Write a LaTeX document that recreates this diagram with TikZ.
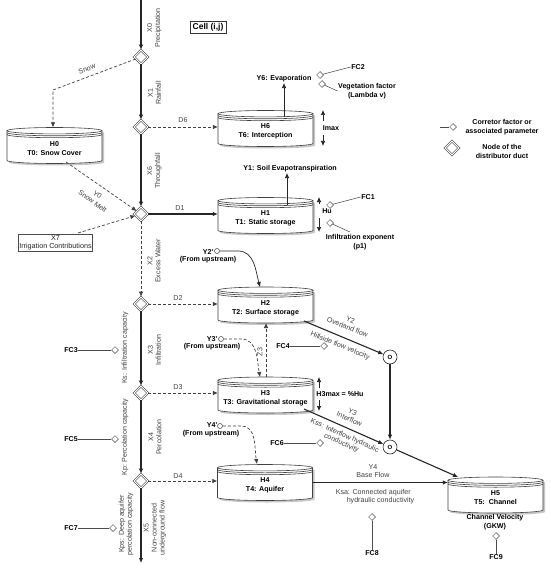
\documentclass[tikz,border=0pt]{standalone}
\usepackage{fontspec}
\setmainfont{Liberation Sans}
\usetikzlibrary{shapes.geometric,arrows.meta,calc}
\newcommand{\tankat}[4]{%
  \begin{scope}[shift={(#2,-#3)}]
    \fill[black!22] (-45.5,13) -- (-45.5,-17) arc[start angle=180,end angle=360,x radius=47.5,y radius=3] -- (49.5,13) -- cycle;
    \filldraw[fill=white,tankline] (-47.5,14.8) -- (-47.5,-15) arc[start angle=180,end angle=360,x radius=47.5,y radius=3] -- (47.5,14.8);
    \filldraw[fill=white,tankline] (0,14.8) ellipse[x radius=47.5,y radius=3.2];
    \draw[tankline] (-47.5,12.9) arc[start angle=180,end angle=360,x radius=47.5,y radius=3.2];
    \draw[tankline] (-47.5,11) arc[start angle=180,end angle=360,x radius=47.5,y radius=3.2];
  \end{scope}
  \node[tankbox] (#1) at (#2,-#3) {};
  \node[blab] (#1t) at (#2,-#3-3) {#4};
}
\begin{document}
\begin{tikzpicture}[x=1pt,y=1pt,
  lab/.style={font=\fontsize{7.1}{8}\selectfont, text=black!75, inner sep=0.5pt, align=center},
  blab/.style={font=\fontsize{7.1}{9}\selectfont\bfseries, inner sep=0.5pt, align=center},
  conn/.style={draw=black!85, line width=1.1pt},
  dconn/.style={draw=black!75, line width=0.7pt, dash pattern=on 3pt off 2pt},
  tline/.style={draw=black!85, line width=0.7pt},
  pline/.style={draw=black!70, line width=0.55pt},
  tankline/.style={draw=black!75, line width=0.6pt},
  arr/.style={-{Latex[length=5pt,width=4.5pt]}},
  tankbox/.style={minimum width=95pt, minimum height=36pt, inner sep=0pt},
  dnode/.style={diamond, draw=black!80, double=white, double distance=1pt, line width=0.6pt, minimum width=14pt, minimum height=14pt, inner sep=0pt},
  sdia/.style={diamond, draw=black!70, line width=0.5pt, minimum width=7pt, minimum height=7pt, inner sep=0pt, fill=white},
  ocirc/.style={circle, draw=black!85, line width=0.6pt, fill=white, minimum size=14pt, inner sep=0pt, font=\fontsize{6}{6}\selectfont\bfseries},
  scirc/.style={circle, draw=black!75, line width=0.5pt, fill=white, minimum size=5pt, inner sep=0pt}]
\useasboundingbox (0,0) rectangle (550,-569);
\fill[white] (0,0) rectangle (550,-569);

% tanks
\tankat{h0}{54.5}{145.5}{H0\\T0: Snow Cover}
\tankat{h6}{265.5}{128.5}{H6\\T6: Interception}
\tankat{h1}{265.5}{215.5}{H1\\T1: Static storage}
\tankat{h2}{265.5}{305}{H2\\T2: Surface storage}
\tankat{h3}{265.5}{395}{H3\\T3: Gravitational storage}
\tankat{h4}{265}{482.5}{H4\\T4: Aquifer}
\tankat{h5}{495.5}{495}{H5\\T5:\ \ Channel}

% main column
\coordinate (top) at (141,0);
\node[dnode] (n1) at (141,-57) {};
\node[dnode] (n2) at (141,-127) {};
\node[dnode] (n3) at (141,-214) {};
\node[dnode] (n4) at (141,-304) {};
\node[dnode] (n5) at (141,-393) {};
\node[dnode] (n6) at (141,-481) {};
\coordinate (bot) at (141,-563);
\draw[conn,arr] (top) -- (n1);
\draw[conn,arr] (n1) -- (n2);
\draw[conn,arr] (n2) -- (n3);
\draw[dconn,arr] (n3) -- (n4);
\draw[conn,arr] (n4) -- (n5);
\draw[conn,arr] (n5) -- (n6);
\draw[conn,arr] (n6) -- (bot);

\node[lab,rotate=90] (lx0) at (154.5,-28) {X0\\Precipitation};
\node[lab,rotate=90] (lx1) at (154.5,-93) {X1\\Rainfall};
\node[lab,rotate=90] (lx6) at (154.5,-171) {X6\\Throughfall};
\node[lab,rotate=90] (lx2) at (154,-261) {X2\\Excess Water};
\node[lab,rotate=90] (lx3) at (154.5,-350) {X3\\Infiltration};
\node[lab,rotate=90] (lx4) at (155,-437) {X4\\Percolation};
\node[lab,rotate=90] (lx5) at (155,-528) {X5\\Non-connected\\underground flow};

\node[lab,rotate=90] (lks) at (125,-348) {Ks: Infiltration capacity};
\node[lab,rotate=90] (lkp) at (125,-437) {Kp: Percolation capacity};
\node[lab,rotate=90] (lkps) at (126,-524) {Kps: Deep aquifer\\percolation capacity};

\node[blab] (fc3) at (71,-350) {FC3};
\node[sdia] (s3) at (115,-350) {};
\draw[pline] (fc3) -- (s3);
\node[blab] (fc5) at (71,-439) {FC5};
\node[sdia] (s5) at (115,-439) {};
\draw[pline] (fc5) -- (s5);
\node[blab] (fc7) at (71,-528) {FC7};
\node[sdia] (s7) at (113,-528) {};
\draw[pline] (fc7) -- (s7);

% cell
\node[draw=black!80, line width=0.6pt, fill=white, font=\fontsize{8.5}{9}\selectfont\bfseries, inner xsep=2.5pt, inner ysep=2pt] (cell) at (208,-27) {Cell (i,j)};

% snow
\coordinate (sc) at (53,-90);
\draw[dconn,arr] (n1) -- (sc) -- (sc |- h0.north);
\node[lab,rotate=22] (lsnow) at (87,-69) {Snow};
\coordinate (h0m) at (66,-162);
\draw[dconn,arr] (h0m) -- (n3);
\node[lab,rotate=-37] (ly0) at (95,-198) {Y0\\Snow Melt};
\node[lab, draw=black!70, line width=0.5pt, fill=white, text=black!85, inner xsep=1pt, inner ysep=1.5pt, font=\fontsize{7.2}{8}\selectfont] (x7) at (55.5,-243) {X7\\Irrigation Contributions};
\coordinate (x7t) at (78,-233);
\draw[dconn,arr] (x7t) -- (n3);

% distributions
\draw[dconn,arr] (n2) -- (n2 -| h6.west);
\node[lab] (ld6) at (183,-120) {D6};
\draw[draw=black!85, line width=1.6pt,arr] (n3) -- (n3 -| h1.west);
\node[lab] (ld1) at (180,-208) {D1};
\draw[dconn,arr] (n4) -- (n4 -| h2.west);
\node[lab] (ld2) at (178,-298) {D2};
\draw[dconn,arr] (n5) -- (n5 -| h3.west);
\node[lab] (ld3) at (178,-387) {D3};
\draw[dconn,arr] (n6) -- (n6 -| h4.west);
\node[lab] (ld4) at (178,-476) {D4};

% H6 outputs
\node[blab] (ly6) at (284,-79) {Y6: Evaporation};
\coordinate (e6) at (284,-117);
\draw[tline,arr] (e6) -- (ly6.south);
\node[sdia] (s2) at (320,-75) {};
\node[blab] (fc2) at (358,-67) {FC2};
\draw[pline] (s2) -- (fc2.west);
\node[sdia] (sv) at (322,-84) {};
\node[blab] (veg) at (367,-91) {Vegetation factor\\(Lambda v)};
\draw[pline] (sv) -- (veg.west);
\node[blab] (imax) at (331,-128) {Imax};
\coordinate (ima) at (323,-121); \coordinate (imt) at (323,-110);
\coordinate (imb) at (323,-135); \coordinate (imd) at (323,-146);
\draw[tline,arr] (ima) -- (imt);
\draw[tline,arr] (imb) -- (imd);

% H1 outputs
\node[blab] (ly1) at (290,-169) {Y1: Soil Evapotranspiration};
\coordinate (e1) at (287,-205);
\draw[tline,arr] (e1) -- (e1 |- ly1.south);
\node[blab] (hu) at (327,-211) {Hu};
\coordinate (hua) at (319,-204); \coordinate (hut) at (319,-197);
\coordinate (hub) at (319,-218); \coordinate (hud) at (319,-232);
\draw[tline,arr] (hua) -- (hut);
\draw[tline,arr] (hub) -- (hud);
\node[sdia] (s1) at (330,-205) {};
\node[blab] (fc1) at (368,-197) {FC1};
\draw[pline] (s1) -- (fc1.west);
\node[sdia] (sp1) at (330,-223) {};
\node[blab] (ipex) at (360,-242) {Infiltration exponent\\(p1)};
\coordinate (ipl) at (350,-232);
\draw[pline] (sp1) -- (ipl);

% upstream inputs
\node[blab] (y2p) at (208,-252) {Y2\textquotesingle};
\node[scirc] (c2p) at (217,-251) {};
\node[blab] (fu2) at (208,-260) {(From upstream)};
\coordinate (h2in) at (260,-287);
\draw[tline,arr] (c2p) -- (238,-251) to[out=0,in=105] (h2in);

\node[blab] (y3p) at (212,-339) {Y3\textquotesingle};
\node[scirc] (c3p) at (221,-339) {};
\node[blab] (fu3) at (212,-347) {(From upstream)};
\coordinate (h3in) at (260,-377);
\draw[dconn,arr] (c3p) -- (241,-339) to[out=0,in=100] (h3in);

\node[blab] (y4p) at (212,-425) {Y4\textquotesingle};
\node[scirc] (c4p) at (220,-426) {};
\node[blab] (fu4) at (211,-434) {(From upstream)};
\coordinate (h4in) at (257,-464);
\draw[dconn,arr] (c4p) -- (241,-426) to[out=0,in=100] (h4in);

% Z3
\coordinate (z3a) at (266,-377); \coordinate (z3b) at (266,-323);
\draw[dconn,arr] (z3a) -- (z3b);
\node[lab,rotate=90] (lz3) at (260,-352) {Z3};

\node[blab] (h3m) at (340,-394) {H3max = \%Hu};
\coordinate (h3a) at (319,-388); \coordinate (h3t) at (319,-377);
\coordinate (h3b) at (319,-400); \coordinate (h3d) at (319,-411);
\draw[tline,arr] (h3a) -- (h3t);
\draw[tline,arr] (h3b) -- (h3d);

% overland / interflow
\node[ocirc] (o1) at (390,-357) {O};
\node[ocirc] (o2) at (390,-447) {O};
\coordinate (h2o) at (304,-321);
\draw[conn,arr] (h2o) -- (o1);
\node[lab,rotate=-22] (ly2) at (349,-323.5) {Y2\\Overland flow};
\node[lab,rotate=-22] (lhv) at (340,-346) {Hillside flow velocity};
\node[blab] (fc4) at (283,-346) {FC4};
\node[sdia] (s4) at (324,-346) {};
\draw[pline] (fc4) -- (s4);
\draw[conn,arr] (o1) -- (o2);
\coordinate (h3o) at (304,-409);
\draw[conn,arr] (h3o) -- (o2);
\node[lab,rotate=-24] (ly3) at (351,-415.5) {Y3\\Interflow};
\node[lab,rotate=-24] (lkss) at (343,-439.5) {Kss: Interflow hydraulic\\conductivity};
\node[blab] (fc6) at (277,-443) {FC6};
\node[sdia] (s6) at (320,-443) {};
\draw[pline] (fc6) -- (s6);
\coordinate (h5in) at (458,-477);
\draw[conn,arr] (o2) -- (h5in);

% base flow
\draw[conn,arr] (h4.east) -- (h4.east -| h5.west);
\node[lab] (ly4) at (373,-471) {Y4\\Base Flow};
\node[lab,align=left] (lksa) at (375,-496.5) {Ksa: Connected aquifer\\\hspace*{11pt}hydraulic conductivity};
\node[sdia] (s8) at (372,-517) {};
\node[blab] (fc8) at (372,-553) {FC8};
\draw[pline] (s8) -- (fc8);
\node[blab] (cv) at (495,-522.5) {Channel Velocity\\(GKW)};
\node[sdia] (s9) at (496,-536) {};
\node[blab] (fc9) at (496,-557) {FC9};
\draw[pline] (s9) -- (fc9);

% legend
\coordinate (lg1) at (440,-127);
\node[sdia] (lgs) at (453,-127) {};
\draw[pline] (lg1) -- (lgs);
\node[blab] (lgt1) at (502,-127) {Corretor factor or\\associated parameter};
\node[dnode] (lgd) at (452,-148) {};
\node[blab] (lgt2) at (502,-151) {Node of the\\distributor duct};
\end{tikzpicture}
\end{document}
